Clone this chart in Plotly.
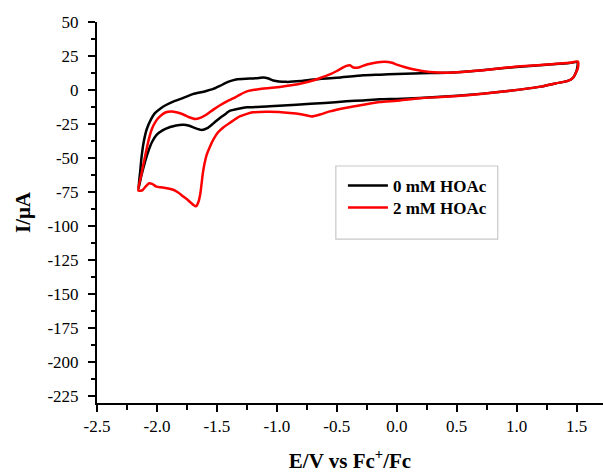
import plotly.graph_objects as go

# ---- data (E in V vs Fc+/Fc, I in µA) ----
e_0mM = [-2.155, -2.14, -2.128, -2.11, -2.086, -2.05, -2.017, -1.97, -1.92, -1.85, -1.78, -1.70,
         -1.61, -1.53, -1.475, -1.43, -1.39, -1.34, -1.225, -1.15, -1.114, -1.07, -1.03, -0.92,
         -0.80, -0.697, -0.5, -0.28, -0.14, 0.0, 0.275, 0.47, 0.69, 0.97, 1.25, 1.44, 1.505,
         1.505, 1.49, 1.47, 1.42, 1.33, 1.2, 1.025, 0.83, 0.61, 0.40, 0.19, 0.0, -0.14, -0.28,
         -0.42, -0.6, -0.836, -1.058, -1.25, -1.31, -1.39, -1.42, -1.475, -1.53, -1.58, -1.628,
         -1.68, -1.73, -1.78, -1.84, -1.89, -1.95, -2.003, -2.04, -2.072, -2.10, -2.13, -2.155]
i_0mM = [-73, -60, -49, -38, -29, -21.5, -17, -13.5, -10.8, -8, -5.8, -3,
         -1.2, 0.8, 3, 5, 6.5, 7.8, 8.4, 8.9, 9.3, 8.5, 7, 6,
         6.6, 7.7, 9, 10.8, 11.3, 11.8, 12.5, 12.8, 14.3, 16.8, 18.6, 19.8, 20.5,
         16, 12, 9, 6.5, 5, 2.5, 0.3, -1.7, -3.5, -4.8, -5.8, -6.5, -6.8, -7.6,
         -8.3, -9.5, -10.8, -12, -12.7, -13.5, -15.2, -17, -20.5, -24.5, -28, -29.3,
         -28, -26.3, -25.5, -26, -27.2, -29.5, -33, -38, -45, -53, -63, -73]

e_2mM = [-2.155, -2.13, -2.1, -2.07, -2.044, -2.01, -1.975, -1.93, -1.878, -1.83, -1.78, -1.73,
         -1.683, -1.64, -1.586, -1.53, -1.47, -1.42, -1.36, -1.31, -1.25, -1.14, -0.975, -0.88,
         -0.78, -0.70, -0.62, -0.558, -0.50, -0.45, -0.42, -0.39, -0.36, -0.31, -0.25, -0.17,
         -0.1, -0.04, 0.0, 0.07, 0.136, 0.275, 0.47, 0.69, 0.97, 1.1, 1.25, 1.44, 1.51,
         1.51, 1.49, 1.47, 1.42, 1.33, 1.2, 1.025, 0.83, 0.61, 0.40, 0.19, 0.0, -0.14, -0.28,
         -0.42, -0.558, -0.64, -0.71, -0.80, -0.89, -1.058, -1.2, -1.25, -1.31, -1.39, -1.447,
         -1.49, -1.53, -1.56, -1.585, -1.603, -1.617, -1.628, -1.64, -1.655, -1.675, -1.697, -1.74,
         -1.78, -1.82, -1.864, -1.93, -2.003, -2.04, -2.065, -2.09, -2.12, -2.155]
i_2mM = [-74, -62, -49, -37, -29, -23, -19.4, -16.5, -15.7, -16.5, -18, -20,
         -21.3, -20.5, -18, -14.4, -11, -8.5, -6, -3.5, -1, 0.8, 2.3, 3.5,
         5.2, 7, 9.5, 11.5, 14, 16.5, 17.8, 18.2, 16.5, 16.8, 18.8, 20.3,
         20.8, 20, 18.7, 16.8, 15.3, 13.3, 12.8, 14.3, 17, 17.8, 18.7, 20, 21,
         16, 12, 9, 6.5, 5, 2.5, 0.3, -1.7, -3.6, -5, -6, -7.8, -8.8, -10.8,
         -13, -15.7, -18, -19.4, -17.8, -16.9, -16, -16.4, -17.5, -19.4, -24, -27.5,
         -31, -36.5, -42, -47.5, -54, -61, -69, -77, -82.5, -85.5, -84.4, -81,
         -78.3, -75.5, -73.3, -72, -71, -69, -68.5, -70.5, -73.5, -74]

series_names = ["0 mM HOAc", "2 mM HOAc"]
series_colors = ["#000000", "#ff0000"]

x_tick_vals = [-2.5, -2.0, -1.5, -1.0, -0.5, 0.0, 0.5, 1.0, 1.5]
x_tick_text = ["-2.5", "-2.0", "-1.5", "-1.0", "-0.5", "0.0", "0.5", "1.0", "1.5"]
y_tick_vals = [50, 25, 0, -25, -50, -75, -100, -125, -150, -175, -200, -225]
y_tick_text = ["50", "25", "0", "-25", "-50", "-75", "-100", "-125", "-150", "-175", "-200", "-225"]

FONT = "Liberation Serif"

fig = go.Figure()
for e, i, name, col, lg in [(e_0mM, i_0mM, series_names[0], series_colors[0], "legend"),
                            (e_2mM, i_2mM, series_names[1], series_colors[1], "legend2")]:
    fig.add_trace(go.Scatter(x=e, y=i, mode="lines", name=name, legend=lg,
                             line=dict(color=col, width=2.5, shape="spline", smoothing=0.6)))

legend_style = dict(xanchor="left", yanchor="top", bgcolor="rgba(0,0,0,0)", borderwidth=0,
                    font=dict(family=FONT, size=17, color="black", weight="bold"), itemwidth=40)

fig.update_layout(
    width=603, height=476,
    margin=dict(l=97, r=0, t=22, b=73),
    paper_bgcolor="white", plot_bgcolor="white",
    font=dict(family=FONT, color="black", size=17),
    showlegend=True,
    legend=dict(x=0.486, y=0.617, **legend_style),
    legend2=dict(x=0.486, y=0.559, **legend_style),
    shapes=[dict(type="rect", xref="paper", yref="paper",
                 x0=0.472, x1=0.792, y0=0.43, y1=0.622,
                 line=dict(color="#c8c8c8", width=1.2), fillcolor="rgba(0,0,0,0)", layer="above")],
)

fig.update_xaxes(
    range=[-2.5, 1.72], showgrid=False, zeroline=False,
    showline=True, linecolor="black", linewidth=2,
    tickmode="array", tickvals=x_tick_vals, ticktext=x_tick_text,
    ticks="outside", ticklen=7, tickwidth=2, tickcolor="black",
    tickfont=dict(family=FONT, size=17, color="black"),
    minor=dict(tick0=-2.25, dtick=0.5, ticks="outside", ticklen=5, tickwidth=2, tickcolor="black"),
    title=dict(text="E/V vs Fc<sup>+</sup>/Fc", standoff=18,
               font=dict(family=FONT, size=21, color="black", weight="bold")),
)
fig.update_yaxes(
    range=[-230, 50], showgrid=False, zeroline=False,
    showline=True, linecolor="black", linewidth=2,
    tickmode="array", tickvals=y_tick_vals, ticktext=y_tick_text,
    ticks="outside", ticklen=7, tickwidth=2, tickcolor="black",
    ticklabelstandoff=6,
    tickfont=dict(family=FONT, size=17, color="black"),
    minor=dict(tick0=-212.5, dtick=25, ticks="outside", ticklen=4, tickwidth=2, tickcolor="black"),
    title=dict(text="I/μA", standoff=11,
               font=dict(family=FONT, size=21, color="black", weight="bold")),
)

fig.write_html("out.html")
